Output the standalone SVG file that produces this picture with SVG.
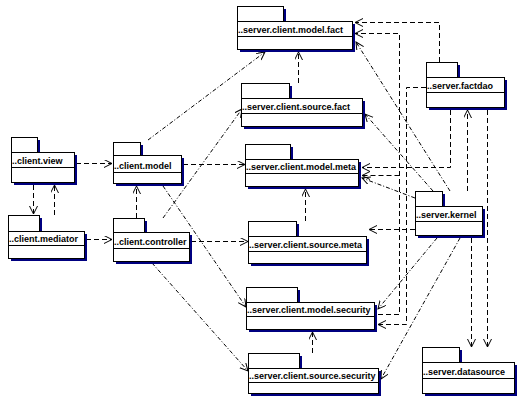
<svg xmlns="http://www.w3.org/2000/svg" width="523" height="405" viewBox="0 0 523 405">
<style>
.sh{fill:#000080;stroke:none}
.bx{fill:#fff;stroke:#000;stroke-width:1}
.sep{stroke:#000;stroke-width:1}
.lb{font-family:"Liberation Sans",Arial,sans-serif;font-size:9px;font-weight:bold;fill:#000}
.o{fill:none;stroke:#000;stroke-width:1;stroke-dasharray:5,3}
.g{fill:none;stroke:#000;stroke-width:1;stroke-dasharray:4,2,1,2}
</style>
<defs>
<marker id="a" markerWidth="10" markerHeight="10" refX="8" refY="4" orient="auto" markerUnits="userSpaceOnUse">
<path d="M0,0 L8,4 L0,8" fill="none" stroke="#000" stroke-width="1"/>
</marker>
</defs>
<rect width="523" height="405" fill="#fff"/>

<g id="connectors">
<path class="o" d="M76,163.5 H112" marker-end="url(#a)"/>
<path class="o" d="M33.5,185 V214" marker-end="url(#a)"/>
<path class="o" d="M54.5,215 V185" marker-end="url(#a)"/>
<path class="o" d="M86,239.5 H112" marker-end="url(#a)"/>
<path class="o" d="M136.5,218 V186" marker-end="url(#a)"/>
<path class="o" d="M183,164.5 H245" marker-end="url(#a)"/>
<path class="o" d="M191,241.5 H248" marker-end="url(#a)"/>
<path class="o" d="M298.5,83 V52" marker-end="url(#a)"/>
<path class="o" d="M305.5,221 V189" marker-end="url(#a)"/>
<path class="o" d="M312.5,353 V332" marker-end="url(#a)"/>
<path class="o" d="M439.5,62 V22.5 H355" marker-end="url(#a)"/>
<path class="o" d="M378,314.5 H399.5 V33.5 H355" marker-end="url(#a)"/>
<path class="o" d="M399.5,175.5 H362" marker-end="url(#a)"/>
<path class="o" d="M426,87.5 H406.5 V324.5 H378" marker-end="url(#a)"/>
<path class="o" d="M450.5,110 V167.5 H362" marker-end="url(#a)"/>
<path class="o" d="M467.5,191 V110" marker-end="url(#a)"/>
<path class="o" d="M487.5,110 V347" marker-end="url(#a)"/>
<path class="o" d="M471.5,238 V347" marker-end="url(#a)"/>
<path class="o" d="M415,229.5 H369" marker-end="url(#a)"/>
<path class="g" d="M148,140 L265,52" marker-end="url(#a)"/>
<path class="g" d="M163,218 L242,109" marker-end="url(#a)"/>
<path class="g" d="M163,186 L246,307" marker-end="url(#a)"/>
<path class="g" d="M152,263 L248,371" marker-end="url(#a)"/>
<path class="g" d="M450,191 L356,42" marker-end="url(#a)"/>
<path class="g" d="M433,191 L365,114" marker-end="url(#a)"/>
<path class="g" d="M415,198 L362,178" marker-end="url(#a)"/>
<path class="g" d="M437,238 L378,309" marker-end="url(#a)"/>
<path class="g" d="M460,238 L381,379" marker-end="url(#a)"/>
</g>

<g id="n-model-fact">
<rect class="sh" x="240" y="9" width="46" height="15"/><rect class="sh" x="240" y="24" width="115" height="28"/>
<rect class="bx" x="237.5" y="6.5" width="46" height="15"/><rect class="bx" x="237.5" y="21.5" width="115" height="28"/>
<line class="sep" x1="237.5" y1="36.5" x2="352.5" y2="36.5"/>
<text class="lb" x="238" y="33">..server.client.model.fact</text>
</g>

<g id="n-source-fact">
<rect class="sh" x="244" y="86" width="48" height="15"/><rect class="sh" x="244" y="101" width="121" height="28"/>
<rect class="bx" x="241.5" y="83.5" width="48" height="15"/><rect class="bx" x="241.5" y="98.5" width="121" height="28"/>
<line class="sep" x1="241.5" y1="113.5" x2="362.5" y2="113.5"/>
<text class="lb" x="242" y="110">..server.client.source.fact</text>
</g>

<g id="n-model-meta">
<rect class="sh" x="248" y="147" width="45" height="15"/><rect class="sh" x="248" y="162" width="113" height="27"/>
<rect class="bx" x="245.5" y="144.5" width="45" height="15"/><rect class="bx" x="245.5" y="159.5" width="113" height="27"/>
<line class="sep" x1="245.5" y1="173.5" x2="358.5" y2="173.5"/>
<text class="lb" x="246" y="170">..server.client.model.meta</text>
</g>

<g id="n-factdao">
<rect class="sh" x="429" y="65" width="31" height="15"/><rect class="sh" x="429" y="80" width="78" height="30"/>
<rect class="bx" x="426.5" y="62.5" width="31" height="15"/><rect class="bx" x="426.5" y="77.5" width="78" height="30"/>
<line class="sep" x1="426.5" y1="92.5" x2="504.5" y2="92.5"/>
<text class="lb" x="427" y="89">..server.factdao</text>
</g>

<g id="n-kernel">
<rect class="sh" x="418" y="194" width="27" height="15"/><rect class="sh" x="418" y="209" width="67" height="29"/>
<rect class="bx" x="415.5" y="191.5" width="27" height="15"/><rect class="bx" x="415.5" y="206.5" width="67" height="29"/>
<line class="sep" x1="415.5" y1="221.5" x2="482.5" y2="221.5"/>
<text class="lb" x="416" y="218">..server.kernel</text>
</g>

<g id="n-source-meta">
<rect class="sh" x="251" y="224" width="48" height="15"/><rect class="sh" x="251" y="239" width="118" height="27"/>
<rect class="bx" x="248.5" y="221.5" width="48" height="15"/><rect class="bx" x="248.5" y="236.5" width="118" height="27"/>
<line class="sep" x1="248.5" y1="251.5" x2="366.5" y2="251.5"/>
<text class="lb" x="249" y="248">..server.client.source.meta</text>
</g>

<g id="n-model-security">
<rect class="sh" x="249" y="290" width="51" height="15"/><rect class="sh" x="249" y="305" width="128" height="27"/>
<rect class="bx" x="246.5" y="287.5" width="51" height="15"/><rect class="bx" x="246.5" y="302.5" width="128" height="27"/>
<line class="sep" x1="246.5" y1="316.5" x2="374.5" y2="316.5"/>
<text class="lb" x="247" y="313">..server.client.model.security</text>
</g>

<g id="n-source-security">
<rect class="sh" x="251" y="356" width="51" height="15"/><rect class="sh" x="251" y="371" width="130" height="25"/>
<rect class="bx" x="248.5" y="353.5" width="51" height="15"/><rect class="bx" x="248.5" y="368.5" width="130" height="25"/>
<line class="sep" x1="248.5" y1="382.5" x2="378.5" y2="382.5"/>
<text class="lb" x="249" y="379">..server.client.source.security</text>
</g>

<g id="n-datasource">
<rect class="sh" x="425" y="350" width="37" height="15"/><rect class="sh" x="425" y="365" width="92" height="31"/>
<rect class="bx" x="422.5" y="347.5" width="37" height="15"/><rect class="bx" x="422.5" y="362.5" width="92" height="31"/>
<line class="sep" x1="422.5" y1="378.5" x2="514.5" y2="378.5"/>
<text class="lb" x="423" y="375">..server.datasource</text>
</g>

<g id="n-client-view">
<rect class="sh" x="14" y="140" width="26" height="15"/><rect class="sh" x="14" y="155" width="63" height="30"/>
<rect class="bx" x="11.5" y="137.5" width="26" height="15"/><rect class="bx" x="11.5" y="152.5" width="63" height="30"/>
<line class="sep" x1="11.5" y1="167.5" x2="74.5" y2="167.5"/>
<text class="lb" x="12" y="164">..client.view</text>
</g>

<g id="n-client-model">
<rect class="sh" x="116" y="145" width="27" height="13"/><rect class="sh" x="116" y="158" width="68" height="28"/>
<rect class="bx" x="113.5" y="142.5" width="27" height="13"/><rect class="bx" x="113.5" y="155.5" width="68" height="28"/>
<line class="sep" x1="113.5" y1="172.5" x2="181.5" y2="172.5"/>
<text class="lb" x="114" y="169">..client.model</text>
</g>

<g id="n-client-mediator">
<rect class="sh" x="11" y="218" width="31" height="16"/><rect class="sh" x="11" y="234" width="76" height="27"/>
<rect class="bx" x="8.5" y="215.5" width="31" height="16"/><rect class="bx" x="8.5" y="231.5" width="76" height="27"/>
<line class="sep" x1="8.5" y1="245.5" x2="84.5" y2="245.5"/>
<text class="lb" x="9" y="242">..client.mediator</text>
</g>

<g id="n-client-controller">
<rect class="sh" x="116" y="221" width="31" height="14"/><rect class="sh" x="116" y="235" width="76" height="29"/>
<rect class="bx" x="113.5" y="218.5" width="31" height="14"/><rect class="bx" x="113.5" y="232.5" width="76" height="29"/>
<line class="sep" x1="113.5" y1="248.5" x2="189.5" y2="248.5"/>
<text class="lb" x="114" y="245">..client.controller</text>
</g>
</svg>
